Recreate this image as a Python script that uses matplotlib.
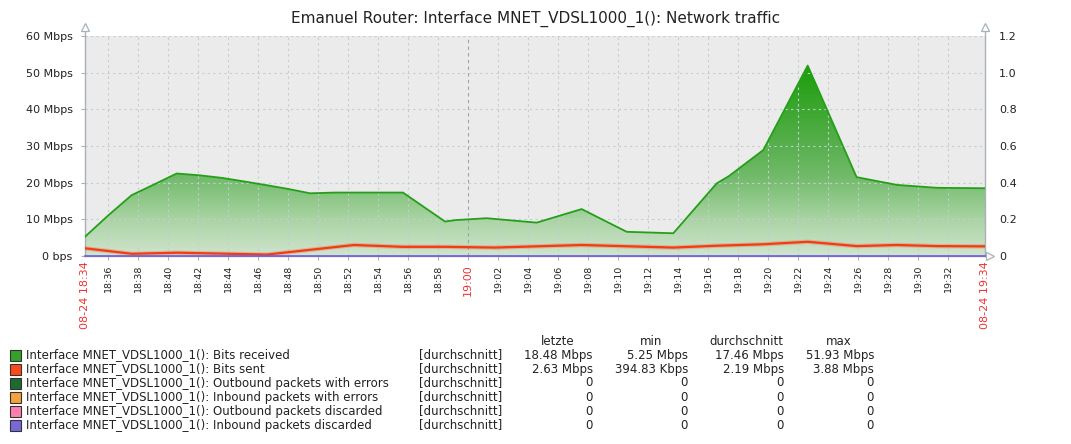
import numpy as np
import matplotlib
matplotlib.use("Agg")
import matplotlib.pyplot as plt
from matplotlib.colors import LinearSegmentedColormap
from matplotlib.patches import Polygon, Rectangle

# minutes after 18:34 and Mbps values
rx_minutes = [0.47, 2.0, 3.58, 5.07, 6.58, 8.13, 9.6, 11.13, 12.6, 14.13, 15.47,
              17.13, 21.67, 24.47, 25.2, 27.25, 30.58, 33.58, 36.58, 39.69,
              42.58, 43.4, 45.69, 48.65, 51.91, 54.58, 57.25, 60.47]
rx_mbps = [5.25, 11.0, 16.6, 19.5, 22.5, 22.0, 21.3, 20.3, 19.3, 18.2, 17.1,
           17.3, 17.3, 9.4, 9.8, 10.3, 9.1, 12.8, 6.6, 6.2,
           19.8, 21.8, 28.9, 51.93, 21.5, 19.4, 18.6, 18.48]

tx_minutes = [0.47, 3.6, 6.6, 12.6, 18.4, 21.67, 24.47, 27.8, 33.58, 39.69,
              42.58, 45.69, 48.65, 51.91, 54.58, 57.25, 60.47]
tx_mbps = [2.1, 0.6, 0.9, 0.39, 3.0, 2.5, 2.5, 2.3, 3.0, 2.3,
           2.8, 3.2, 3.88, 2.7, 3.0, 2.7, 2.63]

title = "Emanuel Router: Interface MNET_VDSL1000_1(): Network traffic"
y_ticks = [0, 10, 20, 30, 40, 50, 60]
y_labels = ["0 bps", "10 Mbps", "20 Mbps", "30 Mbps", "40 Mbps", "50 Mbps", "60 Mbps"]
right_labels = ["0", "0.2", "0.4", "0.6", "0.8", "1.0", "1.2"]

legend_names = [
    "Interface MNET_VDSL1000_1(): Bits received",
    "Interface MNET_VDSL1000_1(): Bits sent",
    "Interface MNET_VDSL1000_1(): Outbound packets with errors",
    "Interface MNET_VDSL1000_1(): Inbound packets with errors",
    "Interface MNET_VDSL1000_1(): Outbound packets discarded",
    "Interface MNET_VDSL1000_1(): Inbound packets discarded",
]
legend_colors = ["#34a12a", "#fc4a1a", "#1e6b30", "#f7a23a", "#ff7fb0", "#7b68d8"]
col_letzte = ["18.48 Mbps", "2.63 Mbps", "0", "0", "0", "0"]
col_min = ["5.25 Mbps", "394.83 Kbps", "0", "0", "0", "0"]
col_avg = ["17.46 Mbps", "2.19 Mbps", "0", "0", "0", "0"]
col_max = ["51.93 Mbps", "3.88 Mbps", "0", "0", "0", "0"]

W, H = 1071, 444
fig = plt.figure(figsize=(W / 100, H / 100), dpi=100)
ax = fig.add_axes([85 / W, 1 - 256 / H, 900 / W, 220 / H])
ax.set_facecolor("#ebebeb")

x0, x1 = 0.47, 60.47
ax.set_xlim(x0, x1)

# gradient fill under received traffic
cmap = LinearSegmentedColormap.from_list(
    "g", [(0, "#d0e4cd"), (0.2, "#a8d3a2"), (0.42, "#70ba69"),
          (0.6, "#55ae4a"), (1, "#1a9e0a")])
ymax = max(rx_mbps)
grad = np.linspace(0, 1, 256).reshape(-1, 1)
img = ax.imshow(grad, cmap=cmap, origin="lower", aspect="auto",
                extent=[x0, x1, 0, ymax], zorder=1)
poly = Polygon(list(zip([rx_minutes[0]] + rx_minutes + [rx_minutes[-1]],
                        [0] + rx_mbps + [0])), closed=True, transform=ax.transData)
img.set_clip_path(poly)
ax.set_ylim(0, 60)

ax.plot(rx_minutes, rx_mbps, color="#24a018", lw=1.3, zorder=3)
ax.plot(tx_minutes, tx_mbps, color="#f05a40", lw=3.2, alpha=0.3, zorder=4)
ax.plot(tx_minutes, tx_mbps, color="#f53c10", lw=1.6, zorder=4)
ax.plot([x0, x1], [0.05, 0.05], color="#6c59dc", lw=1.2, zorder=5, clip_on=False)

# grid
tick_min = list(range(2, 60, 2))
for m in tick_min:
    if m == 26:
        ax.axvline(m, color="#9aa4ac", lw=0.8, ls=(0, (3, 3)), zorder=2)
    else:
        ax.axvline(m, color="#c4ccd4", lw=0.8, ls=(0, (2, 3)), zorder=2)
for v in y_ticks[1:]:
    ax.axhline(v, color="#c4ccd4", lw=0.8, ls=(0, (2, 3)), zorder=2)

for s in ax.spines.values():
    s.set_visible(False)
ax.plot([0, 0], [0, 1.04], transform=ax.transAxes, color="#a8b0b8", lw=1, clip_on=False)
ax.plot([1, 1], [0, 1.04], transform=ax.transAxes, color="#a8b0b8", lw=1, clip_on=False)
ax.plot([0, 1.006], [0, 0], transform=ax.transAxes, color="#a8b0b8", lw=1, clip_on=False, zorder=0)
for px, py, mk in [(0, 1.04, "^"), (1, 1.04, "^"), (1.006, 0, ">")]:
    ax.plot(px, py, marker=mk, ms=6, mfc="white", mec="#a8b0b8", mew=0.9,
            transform=ax.transAxes, clip_on=False)

ax.set_yticks(y_ticks)
ax.set_yticklabels(y_labels, fontsize=8, color="#222222")
ax.tick_params(axis="y", length=3, color="#a8b0b8", pad=6)

tick_labels = ["%d:%02d" % divmod(18 * 60 + 34 + m, 60) for m in tick_min]
ax.set_xticks(tick_min)
ax.set_xticklabels(tick_labels, rotation=90, fontsize=6.8, color="#222222")
ax.tick_params(axis="x", length=3, color="#a8b0b8", pad=3)
for lab, m in zip(ax.get_xticklabels(), tick_min):
    if m == 26:
        lab.set_color("#ee3333")
        lab.set_fontsize(8)

ax.text(0, -0.025, "08-24 18:34", transform=ax.transAxes, rotation=90, ha="center",
        va="top", fontsize=8, color="#ee3333")
ax.text(1, -0.025, "08-24 19:34", transform=ax.transAxes, rotation=90, ha="center",
        va="top", fontsize=8, color="#ee3333")

ax2 = ax.twinx()
ax2.set_ylim(0, 1.2)
ax2.set_yticks(np.linspace(0, 1.2, 7))
ax2.set_yticklabels(right_labels, fontsize=8, color="#222222")
ax2.tick_params(axis="y", length=0, pad=10)
for s in ax2.spines.values():
    s.set_visible(False)

fig.text(536 / W, 1 - 19 / H, title, ha="center", va="center", fontsize=11, color="#222222")

def fy(y):
    return 1 - y / H

hdr_y = 341
fig.text(558 / W, fy(hdr_y), "letzte", ha="center", va="center", fontsize=8.5, color="#222222")
fig.text(651 / W, fy(hdr_y), "min", ha="center", va="center", fontsize=8.5, color="#222222")
fig.text(746 / W, fy(hdr_y), "durchschnitt", ha="center", va="center", fontsize=8.5, color="#222222")
fig.text(839 / W, fy(hdr_y), "max", ha="center", va="center", fontsize=8.5, color="#222222")

for i, name in enumerate(legend_names):
    y = 355 + 14 * i
    fig.patches.append(Rectangle((10 / W, fy(y + 5.5)), 11 / W, 11 / H,
                                 transform=fig.transFigure, facecolor=legend_colors[i],
                                 edgecolor="#333333", lw=0.8))
    fig.text(26 / W, fy(y), name, ha="left", va="center", fontsize=8.5, color="#222222")
    fig.text(419 / W, fy(y), "[durchschnitt]", ha="left", va="center", fontsize=8.5, color="#222222")
    fig.text(593 / W, fy(y), col_letzte[i], ha="right", va="center", fontsize=8.5, color="#222222")
    fig.text(688 / W, fy(y), col_min[i], ha="right", va="center", fontsize=8.5, color="#222222")
    fig.text(784 / W, fy(y), col_avg[i], ha="right", va="center", fontsize=8.5, color="#222222")
    fig.text(874 / W, fy(y), col_max[i], ha="right", va="center", fontsize=8.5, color="#222222")

fig.savefig("out.png", dpi=100, facecolor="white")
